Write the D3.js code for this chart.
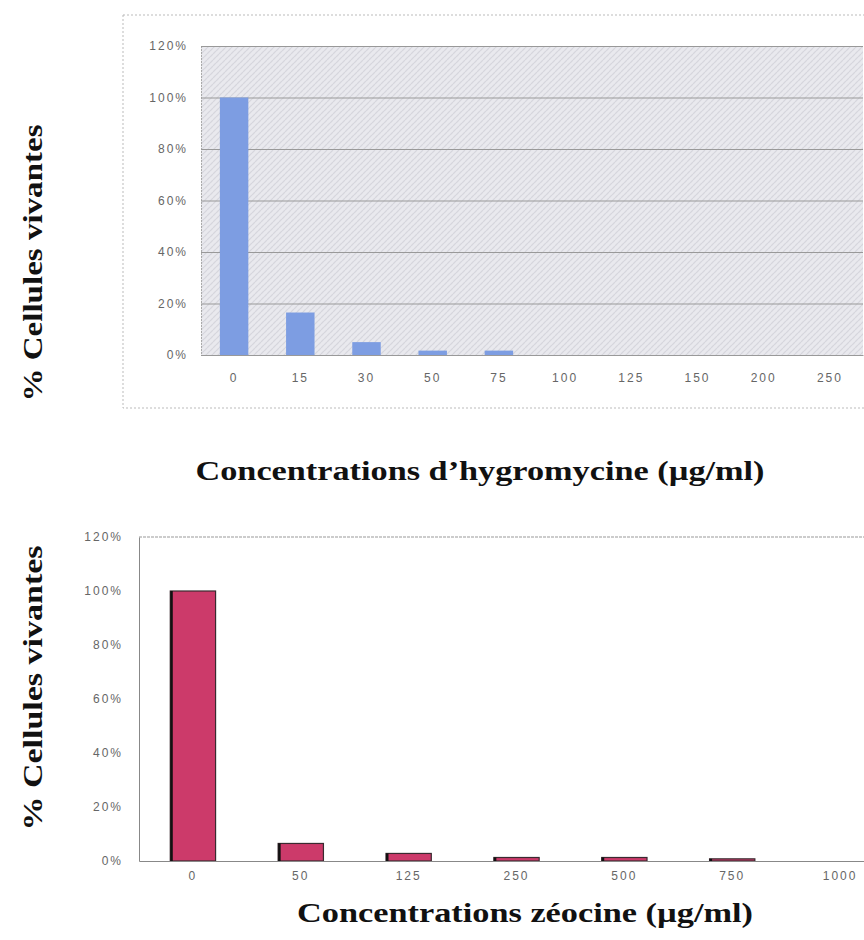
<!DOCTYPE html>
<html><head><meta charset="utf-8">
<script src="https://cdn.jsdelivr.net/npm/d3@7"></script>
<style>body{margin:0;background:#fff}svg{display:block}</style>
</head><body>
<svg id="c" width="864" height="940"></svg>
<script>
// ---- data ----
const hygroCategories = ["0","15","30","50","75","100","125","150","200","250"];
const hygroValues = [100, 16.5, 5, 1.7, 1.7, 0, 0, 0, 0, 0];
const zeoCategories = ["0","50","125","250","500","750","1000"];
const zeoValues = [100, 6.5, 2.8, 1.3, 1.3, 0.8, 0];
const yTicks = [0, 20, 40, 60, 80, 100, 120];
const hygroTitle = "Concentrations d\u2019hygromycine (\u00b5g/ml)";
const zeoTitle = "Concentrations z\u00e9ocine (\u00b5g/ml)";
const yTitle = "% Cellules vivantes";

const svg = d3.select("#c");
const sans = "'Liberation Sans', Arial, sans-serif";
const serif = "'Liberation Serif', 'Times New Roman', serif";

// texture pattern for top chart background
const defs = svg.append("defs");
const pat = defs.append("pattern").attr("id","tex").attr("patternUnits","userSpaceOnUse")
  .attr("width",6).attr("height",6);
pat.append("rect").attr("width",6).attr("height",6).attr("fill","#e9e9ee");
pat.append("path").attr("d","M0,3 L3,0 M3,6 L6,3").attr("stroke","#d6d6dd").attr("stroke-width",1.2);

// ================= TOP CHART =================
{
  const L = 201, R = 863, T = 46, B = 355;
  // outer dotted frame
  svg.append("rect").attr("x",123).attr("y",15).attr("width",800).attr("height",393)
    .attr("fill","none").attr("stroke","#bbb").attr("stroke-dasharray","2,2");
  const x = d3.scaleBand().domain(hygroCategories).range([L, R]).paddingInner(0.57).paddingOuter(0.285);
  const y = d3.scaleLinear().domain([0,120]).range([B, T]);
  svg.append("rect").attr("x",L).attr("y",T).attr("width",R-L).attr("height",B-T).attr("fill","url(#tex)");
  // gridlines
  const yAxis = d3.axisLeft(y).tickValues(yTicks).tickFormat(d => d + "%").tickSize(-(R-L)).tickPadding(13);
  const gy = svg.append("g").attr("transform",`translate(${L},0)`).call(yAxis);
  gy.select(".domain").attr("stroke","#aaa").attr("stroke-dasharray","2,1");
  gy.selectAll(".tick line").attr("stroke","#999").attr("stroke-width",1);
  gy.selectAll(".tick text").attr("fill","#666").style("font-family",sans).style("font-size","12px")
    .style("letter-spacing","2px");
  // bars
  svg.append("g").selectAll("rect").data(hygroCategories.map((c,i)=>({c,v:hygroValues[i]})))
    .join("rect")
    .attr("x", d => x(d.c)).attr("width", x.bandwidth())
    .attr("y", d => y(d.v)).attr("height", d => B - y(d.v))
    .attr("fill","#7d9de2");
  // x axis
  const xAxis = d3.axisBottom(x).tickSize(0).tickPadding(18);
  const gx = svg.append("g").attr("transform",`translate(0,${B})`).call(xAxis);
  gx.select(".domain").attr("stroke","#999").attr("stroke-dasharray","2,1");
  gx.selectAll(".tick text").attr("fill","#666").style("font-family",sans).style("font-size","12px")
    .style("letter-spacing","2px");
  // titles
  svg.append("text").attr("x",480).attr("y",480).attr("text-anchor","middle")
    .style("font-family",serif).style("font-weight","bold").style("font-size","28px")
    .attr("textLength",569).attr("lengthAdjust","spacingAndGlyphs").attr("fill","#111").text(hygroTitle);
  svg.append("text").attr("transform","translate(42,263) rotate(-90)").attr("text-anchor","middle")
    .style("font-family",serif).style("font-weight","bold").style("font-size","27px")
    .attr("textLength",277).attr("lengthAdjust","spacingAndGlyphs").attr("fill","#111").text(yTitle);
}

// ================= BOTTOM CHART =================
{
  const L = 139, R = 894, T = 537, B = 861;
  const x = d3.scaleBand().domain(zeoCategories).range([L, R]).paddingInner(0.58).paddingOuter(0.29);
  const y = d3.scaleLinear().domain([0,120]).range([B, T]);
  // top border
  svg.append("line").attr("x1",L).attr("x2",R).attr("y1",T).attr("y2",T)
    .attr("stroke","#999").attr("stroke-dasharray","3,1");
  const yAxis = d3.axisLeft(y).tickValues(yTicks).tickFormat(d => d + "%").tickSize(0).tickPadding(16);
  const gy = svg.append("g").attr("transform",`translate(${L},0)`).call(yAxis);
  gy.select(".domain").attr("stroke","#888");
  gy.selectAll(".tick text").attr("fill","#666").style("font-family",sans).style("font-size","12px")
    .style("letter-spacing","2px");
  const bars = svg.append("g").selectAll("g").data(zeoCategories.map((c,i)=>({c,v:zeoValues[i]}))).join("g");
  bars.append("rect")
    .attr("x", d => x(d.c)).attr("width", x.bandwidth())
    .attr("y", d => y(d.v)).attr("height", d => B - y(d.v))
    .attr("fill","#cc3a6a").attr("stroke","#3a2a30").attr("stroke-width",1.2);
  bars.filter(d => d.v > 0).append("rect")
    .attr("x", d => x(d.c)).attr("width", 2.5)
    .attr("y", d => y(d.v)).attr("height", d => B - y(d.v))
    .attr("fill","#111");
  const xAxis = d3.axisBottom(x).tickSize(0).tickPadding(10);
  const gx = svg.append("g").attr("transform",`translate(0,${B})`).call(xAxis);
  gx.select(".domain").attr("stroke","#888");
  gx.selectAll(".tick text").attr("fill","#666").style("font-family",sans).style("font-size","12px")
    .style("letter-spacing","2px");
  svg.append("text").attr("x",525).attr("y",922).attr("text-anchor","middle")
    .style("font-family",serif).style("font-weight","bold").style("font-size","28px")
    .attr("textLength",456).attr("lengthAdjust","spacingAndGlyphs").attr("fill","#111").text(zeoTitle);
  svg.append("text").attr("transform","translate(42,688) rotate(-90)").attr("text-anchor","middle")
    .style("font-family",serif).style("font-weight","bold").style("font-size","27px")
    .attr("textLength",285).attr("lengthAdjust","spacingAndGlyphs").attr("fill","#111").text(yTitle);
}
</script>
</body></html>
